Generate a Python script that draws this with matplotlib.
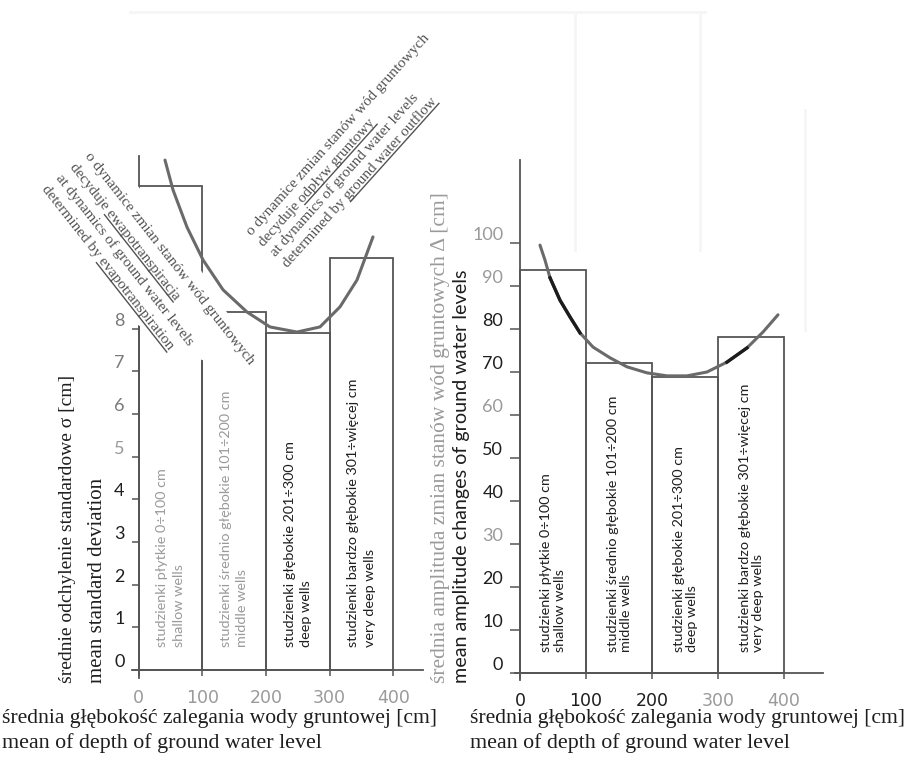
import numpy as np
import matplotlib
matplotlib.use('Agg')
import matplotlib.pyplot as plt
from matplotlib.font_manager import FontProperties
from matplotlib.lines import Line2D
from matplotlib.patches import Polygon
from matplotlib.transforms import IdentityTransform

# depth classes of the wells [cm]
depth_edges = [0, 100, 200, 300, 400]
class_labels = [
    'studzienki płytkie 0÷100 cm\nshallow wells',
    'studzienki średnio głębokie 101÷200 cm\nmiddle wells',
    'studzienki głębokie 201÷300 cm\ndeep wells',
    'studzienki bardzo głębokie 301÷więcej cm\nvery deep wells',
]

# mean standard deviation sigma [cm] per class
sigma_means = [11.35, 8.4, 7.9, 9.65]
# mean amplitude delta [cm] per class
amp_means = [93.7, 72.1, 68.8, 78.1]

# trend curves
sigma_curve_x = [41.6, 54.2, 76.1, 101.3, 132.7, 170.3, 206.4, 248.8, 284.9, 316.3, 343.0, 368.1]
sigma_curve_y = [11.95, 11.25, 10.38, 9.61, 8.91, 8.39, 8.04, 7.92, 8.04, 8.51, 9.14, 10.15]
amp_curve_x = [30.3, 37.9, 45.5, 60.6, 75.8, 90.9, 110.6, 136.4, 162.1, 192.4, 222.7,
               253.0, 283.3, 313.6, 343.9, 368.2, 390.9]
amp_curve_y = [99.5, 96.0, 91.9, 86.7, 82.8, 79.1, 75.8, 73.3, 71.2, 69.8, 69.1,
               69.1, 70.0, 72.3, 75.6, 79.3, 83.3]

sigma_ticks = [0, 1, 2, 3, 4, 5, 6, 7, 8]
amp_ticks = [0, 10, 20, 30, 40, 50, 60, 70, 80, 90, 100]
depth_ticks = [0, 100, 200, 300, 400]

# notes: (plain text, underlined ending)
note_evap = [('o dynamice zmian stanów wód gruntowych', ''),
             ('decyduje ', 'ewapotranspiracja'),
             ('at dynamics of ground water levels', ''),
             ('determined by ', 'evapotranspiration')]
note_flow = [('o dynamice zmian stanów wód gruntowych', ''),
             ('decyduje ', 'odpływ gruntowy'),
             ('at dynamics of ground water levels', ''),
             ('determined by ', 'ground water outflow')]

W, H = 906, 758
fig = plt.figure(figsize=(W / 100, H / 100), dpi=100)
fig.patch.set_facecolor('white')

LINE = '#555555'
DARK = '#1e1e1e'
PALE = '#9a9a9a'
NOTE = '#525252'

# faint show-through from the other side of the page
for xs, ys in [([130, 705], [12, 12]), ([575, 575], [15, 250]), ([700, 700], [15, 250]),
               ([805, 805], [110, 330])]:
    fig.add_artist(Line2D(xs, [H - y for y in ys], transform=IdentityTransform(),
                          color='#f5f5f5', lw=2, zorder=-5))


def px_axes(x0, sx, y0, sy, xlim, ylim):
    # axes placed so that data 0 sits on pixel (x0, y0) with sx, sy px per unit
    left = x0 + xlim[0] * sx
    right = x0 + xlim[1] * sx
    bottom = y0 - ylim[0] * sy
    top = y0 - ylim[1] * sy
    ax = fig.add_axes([left / W, 1 - bottom / H, (right - left) / W, (bottom - top) / H])
    ax.set_xlim(*xlim)
    ax.set_ylim(*ylim)
    ax.patch.set_alpha(0)
    for s in ['top', 'right']:
        ax.spines[s].set_visible(False)
    for s in ['left', 'bottom']:
        ax.spines[s].set_position(('data', 0))
        ax.spines[s].set_color(LINE)
        ax.spines[s].set_linewidth(1.3)
    ax.tick_params(colors=LINE, width=1.1)
    return ax


def style_ticks(ax, xticks, yticks, xcolors, ycolors, ylen):
    ax.set_xticks(xticks)
    ax.set_yticks(yticks)
    ax.tick_params(axis='x', length=4, pad=10)
    ax.tick_params(axis='y', length=ylen, pad=5)
    for lbl, c in zip(ax.get_xticklabels(), xcolors):
        lbl.set_color(c)
        lbl.set_fontfamily('DejaVu Sans')
        lbl.set_fontsize(12.5)
    for lbl, c in zip(ax.get_yticklabels(), ycolors):
        lbl.set_color(c)
        lbl.set_fontfamily('Lato')
        lbl.set_fontsize(13)
        lbl.set_verticalalignment('bottom')


def draw_panel(ax, values, cx, cy, label_y, label_colors, spacing):
    ax.bar(depth_edges[:-1], values, width=100, align='edge', fill=False,
           edgecolor=LINE, linewidth=1.3, zorder=2)
    for i, lab in enumerate(class_labels):
        ax.text(depth_edges[i] + 50, label_y, lab, rotation=90, ha='center', va='bottom',
                multialignment='left', fontsize=10.4, family='Lato', color=label_colors[i],
                linespacing=spacing, zorder=3)
    ax.plot(cx, cy, color='#6a6a6a', lw=2.2, solid_capstyle='round', zorder=4)


# left panel: mean standard deviation
ax1 = px_axes(138.5, 0.637, 670, 42.67, (-10, 447), (-0.19, 12.05))
draw_panel(ax1, sigma_means, sigma_curve_x, sigma_curve_y, 0.55,
           [PALE, PALE, DARK, DARK], 1.45)
style_ticks(ax1, depth_ticks, sigma_ticks, [PALE] * 5,
            [DARK, DARK, DARK, DARK, DARK, PALE, '#7a7a7a', '#7a7a7a', '#7a7a7a'], 5)

# right panel: mean amplitude
ax2 = px_axes(520, 0.66, 673, 4.3, (-7.5, 459), (-1.6, 119.3))
draw_panel(ax2, amp_means, amp_curve_x, amp_curve_y, 4.9,
           [DARK, DARK, DARK, DARK], 1.1)
# darker stretches of the printed curve
ax2.plot(amp_curve_x[2:6], amp_curve_y[2:6], color='#1c1c1c', lw=2.4, zorder=5)
ax2.plot(amp_curve_x[13:15], amp_curve_y[13:15], color='#1c1c1c', lw=2.4, zorder=5)
style_ticks(ax2, depth_ticks, amp_ticks, [DARK, DARK, DARK, PALE, PALE],
            [DARK, DARK, DARK, PALE, DARK, DARK, PALE, DARK, DARK, PALE, PALE], 7)


def ftext(x, y, s, **kw):
    return fig.text(x / W, 1 - y / H, s, **kw)


# axis titles
ftext(68, 683, 'średnie odchylenie standardowe σ [cm]', rotation=90, ha='center', va='bottom',
      family='Liberation Serif', fontsize=14, color=DARK)
ftext(98, 683, 'mean standard deviation', rotation=90, ha='center', va='bottom',
      family='Liberation Serif', fontsize=15, color=DARK)
ftext(440, 683, 'średnia amplituda zmian stanów wód gruntowych Δ [cm]', rotation=90,
      ha='center', va='bottom', family='Liberation Serif', fontsize=15.5, color=PALE)
ftext(461, 683, 'mean amplitude changes of ground water levels', rotation=90,
      ha='center', va='bottom', family='Lato', fontsize=14.2, color=DARK)

for x0 in (2, 470):
    ftext(x0, 719, 'średnia głębokość zalegania wody gruntowej [cm]', ha='left', va='center',
          family='Liberation Serif', fontsize=15.6, color=DARK)
    ftext(x0, 743, 'mean of depth of ground water level', ha='left', va='center',
          family='Liberation Serif', fontsize=15.8, color=DARK)

renderer = fig.canvas.get_renderer()
note_font = FontProperties(family='Liberation Serif', size=11)


def text_width(s):
    w, _, _ = renderer.get_text_width_height_descent(s, note_font, ismath=False)
    return w


def draw_note(x, y, angle, lines, step):
    # x, y: baseline start of the first line in image pixels (y down)
    a = np.radians(angle)
    along = np.array([np.cos(a), -np.sin(a)])      # image coords
    down = np.array([np.sin(a), np.cos(a)])        # next line direction
    start = np.array([x, y], dtype=float)
    widths = [text_width(p + u) for p, u in lines]
    for i, (plain, under) in enumerate(lines):
        p0 = start + down * step * i
        fig.text(p0[0] / W, 1 - p0[1] / H, plain + under, rotation=angle, rotation_mode='anchor',
                 ha='left', va='baseline', fontproperties=note_font, color=NOTE, zorder=10)
        if under:
            u1 = p0 + along * (widths[i] - text_width(under)) + down * 2.2
            u2 = p0 + along * widths[i] + down * 2.2
            fig.add_artist(Line2D([u1[0], u2[0]], [H - u1[1], H - u2[1]],
                                  transform=IdentityTransform(), color=NOTE, lw=1.0, zorder=10))


# white ground under the left note, where the axis and bar lines drop out
blank = [(91, 145), (138, 186), (202, 272), (226, 311), (258, 356), (248, 370),
         (202, 360), (138, 325), (35, 189)]
fig.add_artist(Polygon([(bx, H - by) for bx, by in blank], closed=True,
                       transform=IdentityTransform(), fc='white', ec='none', zorder=8))

draw_note(84, 156, -51.8, note_evap, 18)
draw_note(252, 236, 48, note_flow, 16)

fig.savefig('out.png', dpi=100, facecolor='white')
